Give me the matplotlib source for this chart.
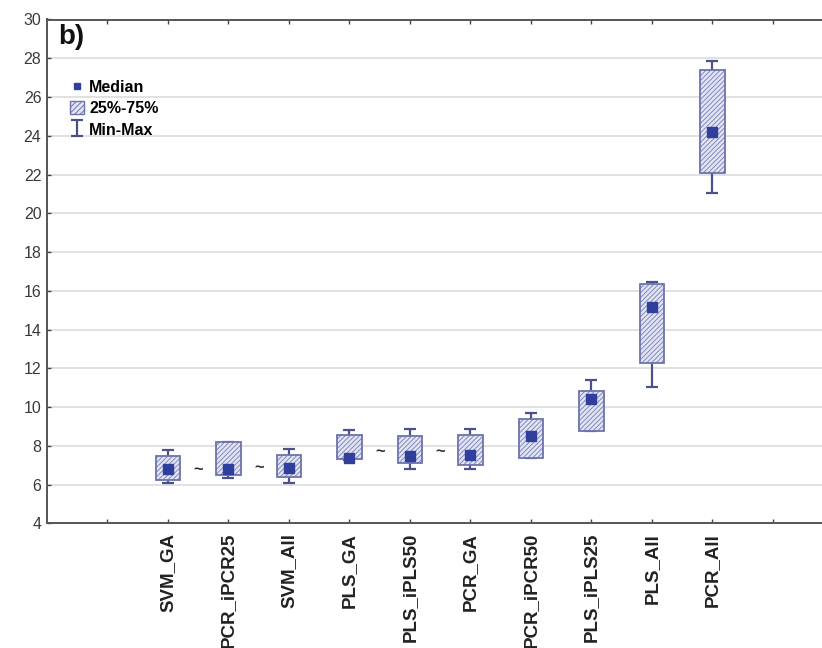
import matplotlib
matplotlib.use("Agg")
import matplotlib.pyplot as plt
from matplotlib.patches import Patch
from matplotlib.lines import Line2D
import numpy as np

plt.rcParams['font.family'] = ['Liberation Sans', 'DejaVu Sans']
plt.rcParams['hatch.linewidth'] = 0.7

# Model error summaries per method
methods = ["SVM_GA", "PCR_iPCR25", "SVM_All", "PLS_GA", "PLS_iPLS50",
           "PCR_GA", "PCR_iPCR50", "PLS_iPLS25", "PLS_All", "PCR_All"]
minimum = [6.10, 6.35, 6.10, 7.28, 6.78, 6.78, 7.35, 8.75, 11.05, 21.05]
q25     = [6.25, 6.50, 6.40, 7.30, 7.10, 7.02, 7.35, 8.75, 12.28, 22.08]
median  = [6.78, 6.80, 6.86, 7.35, 7.45, 7.55, 8.50, 10.42, 15.18, 24.20]
q75     = [7.45, 8.18, 7.55, 8.56, 8.48, 8.58, 9.40, 10.82, 16.37, 27.38]
maximum = [7.78, 8.20, 7.82, 8.80, 8.86, 8.86, 9.68, 11.42, 16.45, 27.88]

# "~" markers between neighbouring methods: (left index, y level)
tilde_between = [0, 1, 3, 4]
tilde_level   = [6.78, 6.86, 7.68, 7.70]

yticks = list(range(4, 31, 2))

face_col = "#e3e5f3"
hatch_col = "#8088bd"
edge_col = "#6d73ad"
whisk_col = "#4c5189"
med_col = "#2f3f9b"

fig = plt.figure(figsize=(8.22, 6.48), dpi=100)
ax = fig.add_axes([47 / 822, 1 - 523.3 / 648, 1 - 47 / 822, (523.3 - 19.5) / 648])

x = np.arange(1, len(methods) + 1)
lo = np.array(median) - np.array(minimum)
hi = np.array(maximum) - np.array(median)

# whiskers (min-max)
eb = ax.errorbar(x, median, yerr=[lo, hi], fmt='none', ecolor=whisk_col,
                 elinewidth=1.6, capsize=4.6, capthick=1.6, zorder=2)

# interquartile boxes: hatched fill then outline
heights = np.array(q75) - np.array(q25)
ax.bar(x, heights, bottom=q25, width=0.41, color=face_col, hatch='///////',
       edgecolor=hatch_col, linewidth=0, zorder=3)
ax.bar(x, heights, bottom=q25, width=0.41, fill=False,
       edgecolor=edge_col, linewidth=1.3, zorder=4)

# medians
ax.plot(x, median, ls='none', marker='s', ms=7, color=med_col,
        mec=med_col, zorder=5)

# tilde markers
for i, lvl in zip(tilde_between, tilde_level):
    ax.text(x[i] + 0.5, lvl, "~", ha='center', va='center', fontsize=12,
            fontweight='bold', color="#2a2a3a", zorder=5)

ax.set_xlim(-1.0, 11.81)
ax.set_ylim(4, 30)
ax.set_yticks(yticks)
ax.set_yticklabels([str(t) for t in yticks], fontsize=11.5, color="#3a3a3a")
ax.set_xticks(np.arange(0, 12))
ax.set_xticklabels([""] + methods + [""], rotation=90, fontsize=13.5,
                   fontweight='bold', color="#222222")
ax.tick_params(axis='x', which='both', direction='in', length=3, width=1,
               top=True, color="#444444", pad=7)
ax.tick_params(axis='y', direction='in', length=3, width=1, color="#444444",
               pad=4)
for t in ax.get_xticklabels():
    t.set_va('top')

ax.grid(axis='y', color="#d8d8d8", linewidth=1.1, zorder=0)
ax.set_axisbelow(True)
for side in ['left', 'bottom', 'top']:
    ax.spines[side].set_color("#555555")
    ax.spines[side].set_linewidth(1.4)
ax.spines['right'].set_visible(False)

ax.text(58 / 822, 1 - 44 / 648, "b)", transform=fig.transFigure,
        fontsize=20, fontweight='bold', color="#111111")

handles = [
    Line2D([], [], ls='none', marker='s', ms=5, color=med_col),
    Patch(facecolor=face_col, edgecolor=edge_col, hatch='//////', linewidth=1),
    eb,
]
leg = ax.legend(handles, ["Median", "25%-75%", "Min-Max"], loc='upper left',
                bbox_to_anchor=(62 / 822, 1 - 72 / 648),
                bbox_transform=fig.transFigure, frameon=False,
                prop={'weight': 'bold', 'size': 11.5}, handlelength=0.85,
                handleheight=0.9, handletextpad=0.35, labelspacing=0.38,
                borderpad=0, numpoints=1)

fig.savefig("out.png", dpi=100)
